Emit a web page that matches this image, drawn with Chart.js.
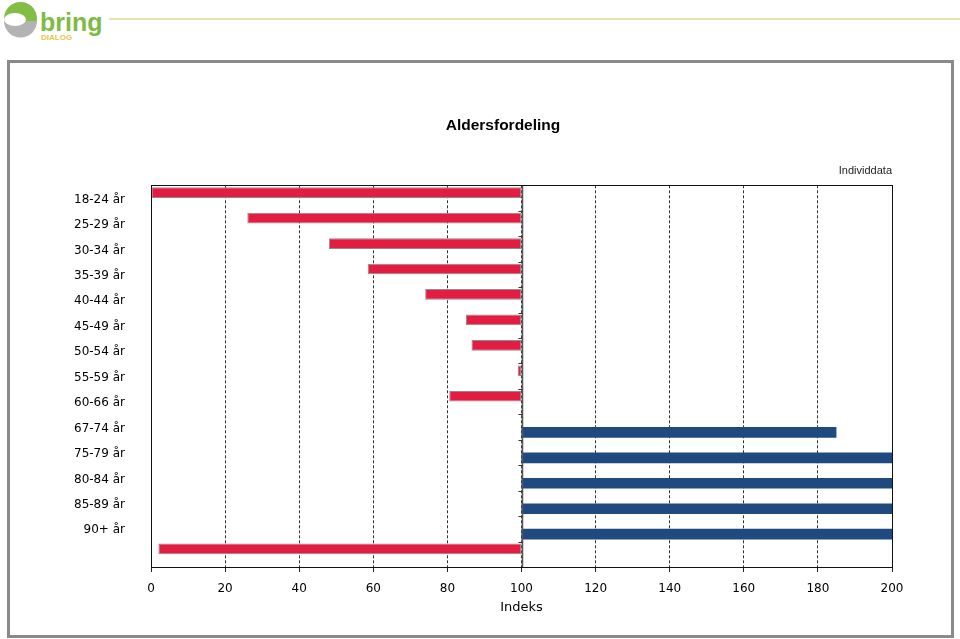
<!DOCTYPE html>
<html>
<head>
<meta charset="utf-8">
<script src="https://cdn.jsdelivr.net/npm/chart.js@4/dist/chart.umd.min.js"></script>
<style>
  html, body { margin:0; padding:0; background:#fff; width:960px; height:639px; overflow:hidden; }
  #frame { position:absolute; left:7px; top:60px; width:941px; height:572px; border:3px solid #8a8a8a; }
  #wrap { position:absolute; left:0; top:0; width:960px; height:639px; }
  #logo { position:absolute; left:0; top:0; }
  #topline { position:absolute; left:109px; top:18px; width:851px; height:2px; background:#ede0a6; }
</style>
</head>
<body>
<div id="frame"></div>
<svg id="logo" width="110" height="45" viewBox="0 0 110 45">
  <circle cx="20.5" cy="18.5" r="16.5" fill="#84bd45"/>
  <path d="M4 21 A16.5 16.5 0 0 0 37 21 Z" fill="#b3b3b3"/>
  <ellipse cx="15" cy="19.5" rx="11" ry="6.5" fill="#ffffff"/>
  <text x="40" y="31" font-family="Liberation Sans, Arial, sans-serif" font-weight="bold" font-size="25" fill="#7dbb42">bring</text>
  <text x="41" y="40" font-family="Liberation Sans, Arial, sans-serif" font-weight="bold" font-size="8" fill="#e6c64a">DIALOG</text>
</svg>
<div id="topline"></div>
<div id="wrap"><canvas id="c"></canvas></div>
<script>
// ---- data ----
const categories = ['18-24 år','25-29 år','30-34 år','35-39 år','40-44 år','45-49 år','50-54 år','55-59 år','60-66 år','67-74 år','75-79 år','80-84 år','85-89 år','90+ år',''];
const underIndex = [0, 26, 48, 58.5, 74, 85, 86.5, 99, 80.5, null, null, null, null, null, 2];
const overIndex  = [null, null, null, null, null, null, null, null, null, 185, 200, 200, 200, 200, null];
const indexBase = 100;
const xTicks = [0, 20, 40, 60, 80, 100, 120, 140, 160, 180, 200];

const toFloat = arr => arr.map(v => v === null ? null : [Math.min(v, indexBase), Math.max(v, indexBase)]);

const framePlugin = {
  id: 'framePlugin',
  afterDatasetsDraw(chart) {
    const {ctx, chartArea: a, scales: {x}} = chart;
    ctx.save();
    // base line at index 100
    const bx = Math.round(x.getPixelForValue(indexBase)) + 0.5;
    ctx.strokeStyle = '#555';
    ctx.lineWidth = 1.5;
    ctx.beginPath();
    ctx.moveTo(bx, a.top);
    ctx.lineTo(bx, a.bottom);
    ctx.stroke();
    // tick marks on base line at category boundaries
    ctx.lineWidth = 1;
    ctx.strokeStyle = '#333';
    const n = categories.length;
    const step = (a.bottom - a.top) / n;
    ctx.beginPath();
    for (let i = 1; i < n; i++) {
      const yy = Math.round(a.top + i * step) + 0.5;
      ctx.moveTo(bx - 4, yy);
      ctx.lineTo(bx, yy);
    }
    ctx.stroke();
    // frame
    ctx.strokeStyle = '#111';
    ctx.lineWidth = 1;
    ctx.strokeRect(Math.round(a.left) + 0.5, Math.round(a.top) + 0.5, Math.round(a.right - a.left), Math.round(a.bottom - a.top));
    ctx.restore();
  }
};

new Chart(document.getElementById('c'), {
  type: 'bar',
  data: {
    labels: categories,
    datasets: [
      {
        label: 'Under indeks',
        data: toFloat(underIndex),
        backgroundColor: '#e31c41',
        borderColor: '#8c8c8c',
        borderWidth: 1,
        borderSkipped: false,
        categoryPercentage: 0.84,
        barPercentage: 1.0
      },
      {
        label: 'Over indeks',
        data: toFloat(overIndex),
        backgroundColor: '#1f4a80',
        borderWidth: 0,
        categoryPercentage: 0.84,
        barPercentage: 1.0
      }
    ]
  },
  options: {
    indexAxis: 'y',
    responsive: true,
    maintainAspectRatio: false,
    animation: false,
    devicePixelRatio: 1,
    layout: { padding: { left: 114, right: 68, top: 0, bottom: 0 } },
    plugins: {
      legend: { display: false },
      tooltip: { enabled: false },
      title: {
        display: true,
        text: 'Aldersfordeling',
        color: '#000',
        font: { family: 'Liberation Sans, Arial, sans-serif', size: 15.5, weight: 'bold', lineHeight: 1.2 },
        padding: { top: 116.7, bottom: 0 }
      },
      subtitle: {
        display: true,
        text: 'Individdata',
        align: 'end',
        color: '#222',
        font: { family: 'Liberation Sans, Arial, sans-serif', size: 11, lineHeight: 1.2 },
        padding: { top: 29.4, bottom: 7.4 }
      }
    },
    scales: {
      x: {
        type: 'linear',
        min: 0,
        max: 200,
        afterBuildTicks: s => { s.ticks = xTicks.map(v => ({ value: v })); },
        afterFit: s => { s.height = 72; },
        ticks: {
          color: '#000',
          padding: 10,
          font: { family: 'DejaVu Sans, Verdana, sans-serif', size: 12 }
        },
        grid: {
          color: '#333',
          lineWidth: 1,
          tickLength: 5,
          tickColor: '#222',
          tickBorderDash: []
        },
        border: { display: false, dash: [3, 2] },
        title: {
          display: true,
          text: 'Indeks',
          color: '#000',
          font: { family: 'DejaVu Sans, Verdana, sans-serif', size: 13, lineHeight: 1.2 },
          padding: { top: 0, bottom: 24 }
        }
      },
      y: {
        type: 'category',
        afterFit: s => { s.width = 37; },
        ticks: {
          color: '#000',
          mirror: true,
          crossAlign: 'far',
          padding: -77,
          labelOffset: 1.5,
          autoSkip: false,
          font: { family: 'DejaVu Sans, Verdana, sans-serif', size: 12 }
        },
        grid: { display: false, drawTicks: false },
        border: { display: false }
      }
    }
  },
  plugins: [framePlugin]
});
</script>
</body>
</html>
